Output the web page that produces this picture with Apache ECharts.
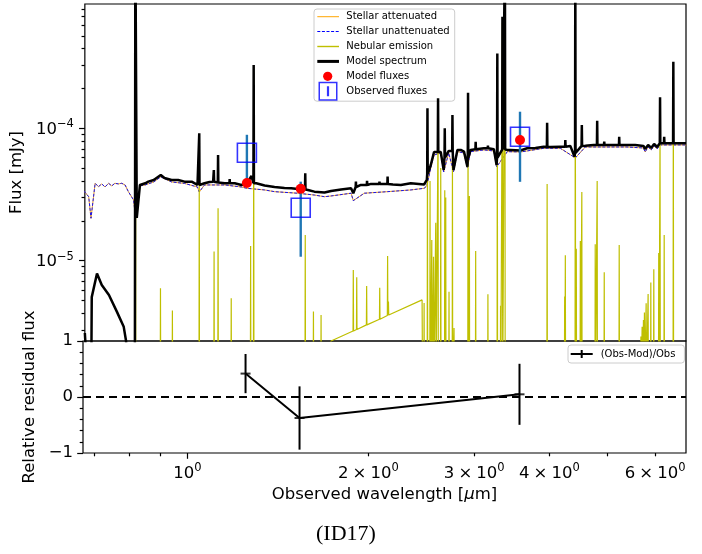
<!DOCTYPE html>
<html><head><meta charset="utf-8">
<script src="https://cdn.jsdelivr.net/npm/echarts@6/dist/echarts.min.js"></script>
<style>html,body{margin:0;padding:0;background:#fff}#c{width:702px;height:554px}</style>
</head><body><div id="c"></div>
<script>
// ---------------- data (wavelength in micron, flux in mJy) ----------------
const stellarUnatt = [[0.668,3.35e-5],[0.673,3.32e-5],[0.680,3.04e-5],[0.686,2.09e-5],[0.697,3.84e-5],[0.706,3.62e-5],[0.715,3.80e-5],[0.724,3.60e-5],[0.734,3.84e-5],[0.743,3.67e-5],[0.752,3.84e-5],[0.762,3.80e-5],[0.772,3.84e-5],[0.782,3.73e-5],[0.792,3.32e-5],[0.808,2.87e-5],[0.8145,2.09e-5],[0.818,2.25e-5],[0.828,3.67e-5],[0.845,3.73e-5],[0.873,3.93e-5],[0.897,4.29e-5],[0.935,3.93e-5],[0.983,3.83e-5],[1.033,3.60e-5],[1.040,3.30e-5],[1.061,3.73e-5],[1.147,3.73e-5],[1.223,3.60e-5],[1.249,3.52e-5],[1.337,3.42e-5],[1.389,3.32e-5],[1.519,3.23e-5],[1.619,3.13e-5],[1.683,3.04e-5],[1.726,3.08e-5],[1.864,3.23e-5],[1.880,2.84e-5],[1.961,3.23e-5],[2.145,3.32e-5],[2.345,3.42e-5],[2.468,3.52e-5],[2.494,3.67e-5],[2.532,5.01e-5],[2.564,6.28e-5],[2.631,6.51e-5],[2.661,4.68e-5],[2.713,6.51e-5],[2.763,4.68e-5],[2.805,6.66e-5],[2.877,6.51e-5],[2.915,5.01e-5],[2.951,6.66e-5],[3.106,6.86e-5],[3.227,6.74e-5],[3.261,5.10e-5],[3.398,6.66e-5],[3.574,6.62e-5],[3.909,7.06e-5],[4.167,7.06e-5],[4.413,5.97e-5],[4.586,7.22e-5],[5.047,7.22e-5],[5.381,7.22e-5],[5.734,7.10e-5],[5.771,6.62e-5],[5.838,7.22e-5],[5.906,6.86e-5],[5.974,7.36e-5],[6.043,6.98e-5],[6.112,7.48e-5],[6.516,7.48e-5],[6.760,7.48e-5]];
// attenuated and unattenuated stellar spectra coincide in the picture
const stellarAtt = stellarUnatt;

const nebularCont = [[0.660,3e-7],[1.300,1.39e-6],[1.726,2.47e-6],[2.449,5.05e-6],[2.453,1.3e-6],[6.800,2.0e-6]];
// [wavelength, base, peak]
const nebularLines = [[0.814,1e-6,2.9e-3],[0.896,1e-6,6.19e-6],[0.938,1e-6,4.19e-6],[1.040,1e-6,5.4e-5],[1.101,1e-6,1.17e-5],[1.118,1e-6,2.49e-5],[1.176,1e-6,5.19e-6],[1.267,1e-6,1.29e-5],[1.282,1e-6,2.63e-4],[1.563,1e-6,1.56e-5],[1.613,1e-6,4.12e-6],[1.661,1e-6,3.89e-6],[1.880,2.94e-6,8.51e-6],[1.905,3.02e-6,7.49e-6],[1.979,3.27e-6,6.44e-6],[2.081,3.61e-6,6.25e-6],[2.145,3.85e-6,1.085e-5],[2.152,3.88e-6,4.90e-6],[2.468,1e-6,4.79e-6],[2.500,1e-6,9.7e-5],[2.525,1e-6,4.0e-5],[2.542,1e-6,1.43e-5],[2.559,1e-6,1.07e-5],[2.581,1e-6,1.93e-5],[2.604,1e-6,1.02e-4],[2.631,1e-6,5.0e-5],[2.672,1e-6,3.4e-5],[2.682,1e-6,3.0e-5],[2.716,1e-6,5.83e-6],[2.752,1e-6,5.9e-5],[2.769,1e-6,3.1e-6],[2.922,1e-6,1.17e-4],[2.937,1e-6,3.08e-5],[3.009,1e-6,1.18e-5],[3.154,1e-6,5.58e-6],[3.270,1e-6,3.0e-4],[3.311,1e-6,4.57e-6],[3.335,1e-6,6.3e-4],[3.367,1e-6,2.0e-3],[3.960,1e-6,3.8e-5],[4.236,1e-6,5.35e-6],[4.247,1e-6,1.10e-5],[4.413,1e-6,2.0e-3],[4.430,1e-6,1.23e-5],[4.499,1e-6,1.41e-5],[4.525,1e-6,3.3e-5],[4.764,1e-6,1.33e-5],[4.800,1e-6,4.0e-5],[4.932,1e-6,8.18e-6],[5.224,1e-6,1.31e-5],[5.678,1e-6,2.67e-6],[5.705,1e-6,3.17e-6],[5.734,1e-6,3.56e-6],[5.756,1e-6,4.05e-6],[5.794,1e-6,4.77e-6],[5.838,1e-6,5.60e-6],[5.899,1e-6,6.82e-6],[5.967,1e-6,8.61e-6],[6.081,1e-6,1.14e-5],[6.112,1e-6,9.4e-5],[6.210,1e-6,1.56e-5],[6.432,1e-6,2.4e-4]];

const modelCont = [[0.670,2.84e-6],[0.679,1.0e-6],[0.6865,1.0e-6],[0.688,5.3e-6],[0.702,8.0e-6],[0.715,6.55e-6],[0.735,5.5e-6],[0.758,4.1e-6],[0.778,3.16e-6],[0.785,2.47e-6],[0.792,1.0e-6],[0.812,1.0e-6],[0.8135,3.0e-3],[0.818,2.1e-5],[0.828,3.73e-5],[0.845,3.84e-5],[0.855,3.95e-5],[0.873,4.07e-5],[0.897,4.44e-5],[0.910,4.21e-5],[0.935,4.07e-5],[0.959,4.07e-5],[0.983,3.95e-5],[1.010,3.95e-5],[1.033,3.73e-5],[1.049,3.84e-5],[1.061,3.84e-5],[1.082,3.93e-5],[1.097,3.95e-5],[1.147,3.84e-5],[1.192,3.84e-5],[1.223,3.73e-5],[1.249,3.84e-5],[1.271,4.36e-5],[1.295,3.84e-5],[1.337,3.70e-5],[1.389,3.60e-5],[1.443,3.54e-5],[1.481,3.52e-5],[1.519,3.48e-5],[1.579,3.42e-5],[1.619,3.32e-5],[1.683,3.27e-5],[1.726,3.36e-5],[1.794,3.45e-5],[1.864,3.52e-5],[1.880,3.23e-5],[1.936,3.73e-5],[2.012,3.80e-5],[2.107,3.80e-5],[2.189,3.76e-5],[2.257,3.73e-5],[2.345,3.84e-5],[2.418,3.80e-5],[2.468,3.76e-5],[2.494,4.07e-5],[2.532,5.28e-5],[2.564,6.62e-5],[2.631,6.62e-5],[2.661,4.84e-5],[2.713,6.74e-5],[2.763,4.84e-5],[2.805,6.86e-5],[2.841,6.86e-5],[2.877,6.66e-5],[2.915,5.13e-5],[2.951,6.86e-5],[3.028,7.06e-5],[3.106,7.06e-5],[3.227,6.94e-5],[3.261,5.28e-5],[3.398,6.86e-5],[3.440,6.86e-5],[3.574,6.80e-5],[3.667,7.06e-5],[3.786,7.10e-5],[3.909,7.26e-5],[4.010,7.22e-5],[4.167,7.26e-5],[4.329,7.36e-5],[4.400,6.10e-5],[4.586,7.39e-5],[4.734,7.48e-5],[4.857,7.48e-5],[5.047,7.48e-5],[5.381,7.48e-5],[5.555,7.48e-5],[5.734,7.36e-5],[5.771,6.98e-5],[5.838,7.48e-5],[5.906,7.10e-5],[5.974,7.61e-5],[6.043,7.22e-5],[6.112,7.70e-5],[6.302,7.70e-5],[6.516,7.70e-5],[6.753,7.70e-5]];
// [wavelength, base, peak]
const modelLines = [[1.040,3.73e-5,9.17e-5],[1.100,3.95e-5,4.84e-5],[1.118,3.90e-5,6.28e-5],[1.169,3.84e-5,4.14e-5],[1.282,3.84e-5,3.01e-4],[1.563,3.45e-5,4.57e-5],[1.899,3.60e-5,3.95e-5],[1.982,3.73e-5,4.00e-5],[2.079,3.80e-5,3.95e-5],[2.145,3.80e-5,4.31e-5],[2.500,4.5e-5,1.416e-4],[2.604,6.62e-5,1.684e-4],[2.672,6.0e-5,1.0e-4],[2.752,6.74e-5,1.26e-4],[2.922,6.0e-5,1.857e-4],[3.009,6.94e-5,7.92e-5],[3.154,7.06e-5,7.39e-5],[3.270,6.0e-5,3.68e-4],[3.335,6.9e-5,6.97e-4],[3.367,6.9e-5,2.0e-3],[3.960,7.22e-5,1.102e-4],[4.247,7.26e-5,8.16e-5],[4.413,6.5e-5,2.0e-3],[4.525,7.36e-5,1.059e-4],[4.800,7.48e-5,1.141e-4],[4.932,7.48e-5,7.92e-5],[5.224,7.48e-5,8.64e-5],[6.112,7.70e-5,1.714e-4],[6.210,7.70e-5,8.64e-5],[6.432,7.70e-5,3.18e-4]];

const obsWave = [1.249, 1.536, 3.568];
const obsFlux = [6.53e-5, 2.51e-5, 8.64e-5];
const obsErr = [2.4e-5, 1.44e-5, 4.7e-5];
const modelFlux = [3.86e-5, 3.49e-5, 8.16e-5];
const residual = [0.418, -0.375, 0.048];
const residualErr = [0.35, 0.565, 0.545];

const xMajorTicks = [1];
const xMinorTicks = [0.7, 0.8, 0.9, 2, 3, 4, 5, 6];
const xLabelTicks = [1, 2, 3, 4, 6];
const yMajorTicks = [1e-5, 1e-4];
const yMinorTicks = [3e-6,4e-6,5e-6,6e-6,7e-6,8e-6,9e-6,2e-5,3e-5,4e-5,5e-5,6e-5,7e-5,8e-5,9e-5,2e-4,3e-4,4e-4,5e-4,6e-4,7e-4,8e-4];
const xRange = [0.670, 6.753];
const yRange = [2.47e-6, 8.69e-4];

// ---------------- helpers ----------------
function withLines(cont, lines) {
  const pts = cont.map(p => [p[0], p[1]]);
  lines.forEach(l => { pts.push([l[0] * 0.999, l[1]], [l[0], l[2]], [l[0] * 1.001, l[1]]); });
  pts.sort((a, b) => a[0] - b[0]);
  return pts;
}
const FONT = 'DejaVu Sans';
const tickStyle = {color: '#000', width: 1.2};
const supRich = {
  b: {fontSize: 16.5, fontFamily: FONT, color: '#000', lineHeight: 20, verticalAlign: 'bottom'},
  s: {fontSize: 11.5, fontFamily: FONT, color: '#000', lineHeight: 9, verticalAlign: 'top'}
};
function xFmt(v) {
  if (Math.abs(v - 1) < 1e-9) return '{b|10}{s|0}';
  return '{b|' + Math.round(v) + '\u2005×\u200510}{s|0}';
}
function yFmt(v) {
  const e = Math.round(Math.log10(v));
  return '{b|10}{s|' + (e < 0 ? '\u2212' + (-e) : e) + '}';
}
function errorBar(color, width) {
  return function (params, api) {
    const x = api.value(0), y = api.value(1), e = api.value(2);
    const p1 = api.coord([x, y - e]), p2 = api.coord([x, y + e]);
    return {type: 'line', shape: {x1: p1[0], y1: p1[1], x2: p2[0], y2: p2[1]}, style: {stroke: color, lineWidth: width}};
  };
}
const pad = 'M0,0L0,0M24,19L24,19';
const icons = {
  att: 'path://' + pad + 'M0,9L21.7,9L21.7,10L0,10Z',
  unatt: 'path://' + pad + 'M0,9L3,9L3,10L0,10ZM4.6,9L7.6,9L7.6,10L4.6,10ZM9.2,9L12.2,9L12.2,10L9.2,10ZM13.8,9L16.8,9L16.8,10L13.8,10ZM18.4,9L21.4,9L21.4,10L18.4,10Z',
  neb: 'path://' + pad + 'M0,8.8L21.7,8.8L21.7,10.2L0,10.2Z',
  model: 'path://' + pad + 'M0,8L21.7,8L21.7,11L0,11Z',
  dot: 'path://' + pad + 'M15,9.5A4.6,4.6,0,1,1,5.8,9.5A4.6,4.6,0,1,1,15,9.5Z',
  obs: 'path://' + pad + 'M1.2,0L20.2,0L20.2,19L1.2,19ZM2.7,1.5L2.7,17.5L18.7,17.5L18.7,1.5ZM9.6,4.5L11.8,4.5L11.8,14.5L9.6,14.5Z',
  resid: 'path://M0,0L0,0M25,12L25,12M0,5L22,5L22,7L0,7ZM10,2L12,2L12,10L10,10Z'
};
const noLine = {show: false, onZero: false};

const chart = echarts.init(document.getElementById('c'), null, {renderer: 'canvas'});
chart.setOption({
  animation: false,
  backgroundColor: '#fff',
  textStyle: {fontFamily: FONT},
  title: {text: '(ID17)', left: 316, top: 523, padding: 0,
    textStyle: {fontFamily: 'Liberation Serif', fontSize: 22, fontWeight: 'normal', color: '#000'}},
  grid: [
    {left: 83, top: 4, width: 603, height: 337, show: true, borderColor: '#000', borderWidth: 1.2, backgroundColor: 'transparent'},
    {left: 83, top: 341, width: 603, height: 112, show: true, borderColor: '#000', borderWidth: 1.2, backgroundColor: 'transparent'}
  ],
  xAxis: [
    {type: 'log', gridIndex: 0, position: 'bottom', min: xRange[0], max: xRange[1], axisLine: noLine, axisTick: {show: false}, axisLabel: {show: false}, splitLine: {show: false}},
    {type: 'log', gridIndex: 1, position: 'bottom', min: xRange[0], max: xRange[1], axisLine: noLine, splitLine: {show: false},
      axisTick: {show: true, length: 5.8, lineStyle: tickStyle, customValues: xMajorTicks},
      axisLabel: {show: true, margin: 9, customValues: xLabelTicks, formatter: xFmt, rich: supRich},
      name: 'Observed wavelength [{i|μ}m]', nameLocation: 'middle', nameGap: 33,
      nameTextStyle: {fontSize: 16.5, color: '#000', fontFamily: FONT, rich: {i: {fontSize: 16.5, fontStyle: 'italic', fontFamily: FONT, color: '#000'}}}},
    {type: 'log', gridIndex: 1, position: 'bottom', min: xRange[0], max: xRange[1], axisLine: noLine, splitLine: {show: false}, axisLabel: {show: false},
      axisTick: {show: true, length: 3.3, lineStyle: tickStyle, customValues: xMinorTicks}}
  ],
  yAxis: [
    {type: 'log', gridIndex: 0, position: 'left', min: yRange[0], max: yRange[1], axisLine: noLine, splitLine: {show: false},
      axisTick: {show: true, length: 5.8, lineStyle: tickStyle, customValues: yMajorTicks},
      axisLabel: {show: true, margin: 11, customValues: yMajorTicks, formatter: yFmt, rich: supRich},
      name: 'Flux [mJy]', nameLocation: 'middle', nameGap: 59, nameTextStyle: {fontSize: 16.5, color: '#000', fontFamily: FONT}},
    {type: 'log', gridIndex: 0, position: 'left', min: yRange[0], max: yRange[1], axisLine: noLine, splitLine: {show: false}, axisLabel: {show: false},
      axisTick: {show: true, length: 3.3, lineStyle: tickStyle, customValues: yMinorTicks}},
    {type: 'value', gridIndex: 1, position: 'left', min: -1, max: 1, interval: 1, axisLine: noLine, splitLine: {show: false},
      axisTick: {show: true, length: 5.8, lineStyle: tickStyle},
      minorTick: {show: true, splitNumber: 5, length: 3.3, lineStyle: tickStyle},
      axisLabel: {show: true, margin: 10, fontSize: 16.5, color: '#000', fontFamily: FONT, formatter: v => String(v).replace('-', '\u2212')},
      name: 'Relative residual flux', nameLocation: 'middle', nameGap: 44, nameTextStyle: {fontSize: 16.5, color: '#000', fontFamily: FONT}}
  ],
  legend: [
    {left: 314, top: 9, orient: 'vertical', itemWidth: 24, itemHeight: 19, itemGap: -4.1, padding: [-1.8, 5, 0.5, 3.3],
      backgroundColor: 'rgba(255,255,255,0.8)', borderColor: '#cccccc', borderWidth: 1, borderRadius: 3,
      textStyle: {fontSize: 10, color: '#000', fontFamily: FONT}, itemStyle: {borderWidth: 0}, selectedMode: false,
      data: [
        {name: 'Stellar attenuated', icon: icons.att},
        {name: 'Stellar unattenuated', icon: icons.unatt},
        {name: 'Nebular emission', icon: icons.neb},
        {name: 'Model spectrum', icon: icons.model},
        {name: 'Model fluxes', icon: icons.dot},
        {name: 'Observed fluxes', icon: icons.obs, itemStyle: {color: '#0000ff', borderWidth: 0}}
      ]},
    {left: 568, top: 345, orient: 'vertical', itemWidth: 25, itemHeight: 12, padding: [3, 9, 3, 2.7],
      backgroundColor: 'rgba(255,255,255,0.8)', borderColor: '#cccccc', borderWidth: 1, borderRadius: 3,
      textStyle: {fontSize: 10, color: '#000', fontFamily: FONT}, itemStyle: {borderWidth: 0}, selectedMode: false,
      data: [{name: '(Obs-Mod)/Obs', icon: icons.resid}]}
  ],
  series: [
    {name: 'Stellar attenuated', type: 'line', xAxisIndex: 0, yAxisIndex: 0, data: stellarAtt, symbol: 'none', z: 2,
      color: '#ffa500', lineStyle: {color: '#ffa500', width: 0.9}},
    {name: 'Stellar unattenuated', type: 'line', xAxisIndex: 0, yAxisIndex: 0, data: stellarUnatt, symbol: 'none', z: 3,
      color: '#0000ff', lineStyle: {color: '#0000ff', width: 0.9, type: [3, 1.6]}},
    {name: 'Nebular emission', type: 'line', xAxisIndex: 0, yAxisIndex: 0, data: withLines(nebularCont, nebularLines), symbol: 'none', z: 4,
      color: '#bfbf00', lineStyle: {color: '#bfbf00', width: 1.2, join: 'bevel'}},
    {name: 'Model spectrum', type: 'line', xAxisIndex: 0, yAxisIndex: 0, data: withLines(modelCont, modelLines), symbol: 'none', z: 5,
      color: '#000', lineStyle: {color: '#000', width: 2.5, join: 'bevel'}},
    {name: 'Observed errors', type: 'custom', xAxisIndex: 0, yAxisIndex: 0, z: 6,
      data: obsWave.map((w, i) => [w, obsFlux[i], obsErr[i]]), encode: {x: 0, y: 1}, renderItem: errorBar('#1f77b4', 2.4)},
    {name: 'Observed fluxes', type: 'scatter', xAxisIndex: 0, yAxisIndex: 0, z: 7, symbol: 'rect', symbolSize: 19,
      data: obsWave.map((w, i) => [w, obsFlux[i]]),
      itemStyle: {color: 'rgba(0,0,0,0)', borderColor: '#0000ff', borderWidth: 1.6}},
    {name: 'Model fluxes', type: 'scatter', xAxisIndex: 0, yAxisIndex: 0, z: 8, symbol: 'circle', symbolSize: 10,
      data: obsWave.map((w, i) => [w, modelFlux[i]]), color: '#ff0000', itemStyle: {color: '#ff0000', opacity: 1}},
    {name: '(Obs-Mod)/Obs', type: 'line', xAxisIndex: 1, yAxisIndex: 2, z: 5, symbol: 'none', color: '#000',
      data: obsWave.map((w, i) => [w, residual[i]]), lineStyle: {color: '#000', width: 2},
      markLine: {silent: true, symbol: ['none', 'none'], label: {show: false}, lineStyle: {color: '#000', width: 2, type: [8, 5]}, data: [{yAxis: 0}]}},
    {name: 'Residual errors', type: 'custom', xAxisIndex: 1, yAxisIndex: 2, z: 6,
      data: obsWave.map((w, i) => [w, residual[i], residualErr[i]]), encode: {x: 0, y: 1}, renderItem: errorBar('#000', 2)},
    {name: 'Residual marks', type: 'scatter', xAxisIndex: 1, yAxisIndex: 2, z: 7, symbol: 'rect', symbolSize: [10, 2],
      data: obsWave.map((w, i) => [w, residual[i]]), itemStyle: {color: '#000'}}
  ]
});
</script></body></html>
